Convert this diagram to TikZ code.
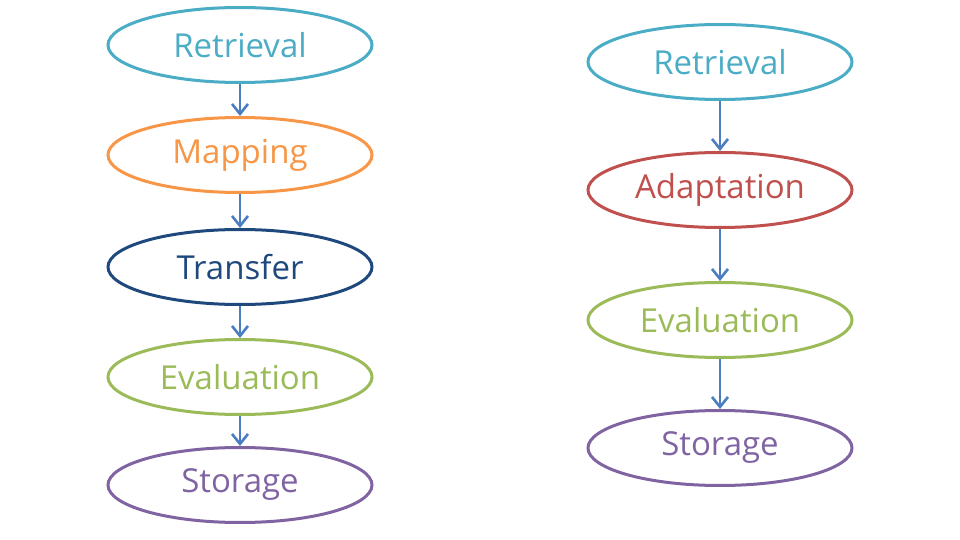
\documentclass[tikz,border=0pt]{standalone}
\usepackage{fontspec}
\setmainfont{Open Sans}
\usepackage{xcolor}
\usetikzlibrary{arrows.meta,positioning,shapes.geometric}
\definecolor{cteal}{HTML}{4BACC6}
\definecolor{corange}{HTML}{F79646}
\definecolor{cnavy}{HTML}{1F497D}
\definecolor{cgreen}{HTML}{9BBB59}
\definecolor{cpurple}{HTML}{8064A2}
\definecolor{cred}{HTML}{C0504D}
\definecolor{carrow}{HTML}{4A7EC0}
\tikzset{
  stage/.style={ellipse,line width=1.5pt,minimum width=132pt,minimum height=37.5pt,inner sep=0pt,font=\fontsize{16.5}{18}\selectfont},
  retr/.style={stage,draw=cteal,text=cteal},
  mapp/.style={stage,draw=corange,text=corange},
  trans/.style={stage,draw=cnavy,text=cnavy},
  evalu/.style={stage,draw=cgreen,text=cgreen},
  stor/.style={stage,draw=cpurple,text=cpurple},
  adapt/.style={stage,draw=cred,text=cred},
  flow/.style={line width=1.3pt,carrow,-{Straight Barb[length=5pt,width=8pt,line width=1.3pt]}}
}
\begin{document}
\begin{tikzpicture}[x=0.5pt,y=-0.5pt]
  \useasboundingbox (0,0) rectangle (960,540);
  % analogy cycle
  \node[retr] (r1) at (240,45) {Retrieval};
  \node[mapp] (m1) at (240,155) {Mapping};
  \node[trans] (t1) at (240,267) {Transfer};
  \node[evalu] (e1) at (240,377) {Evaluation};
  \node[stor] (s1) at (240,485) {Storage};
  \draw[flow] (r1)--(m1);
  \draw[flow] (m1)--(t1);
  \draw[flow] (t1)--(e1);
  \draw[flow] (e1)--(s1);

  % case-based cycle
  \node[retr] (r2) at (720,62) {Retrieval};
  \node[adapt] (a2) at (720,190) {Adaptation};
  \node[evalu] (e2) at (720,320) {Evaluation};
  \node[stor] (s2) at (720,448) {Storage};
  \draw[flow] (r2)--(a2);
  \draw[flow] (a2)--(e2);
  \draw[flow] (e2)--(s2);
\end{tikzpicture}
\end{document}
